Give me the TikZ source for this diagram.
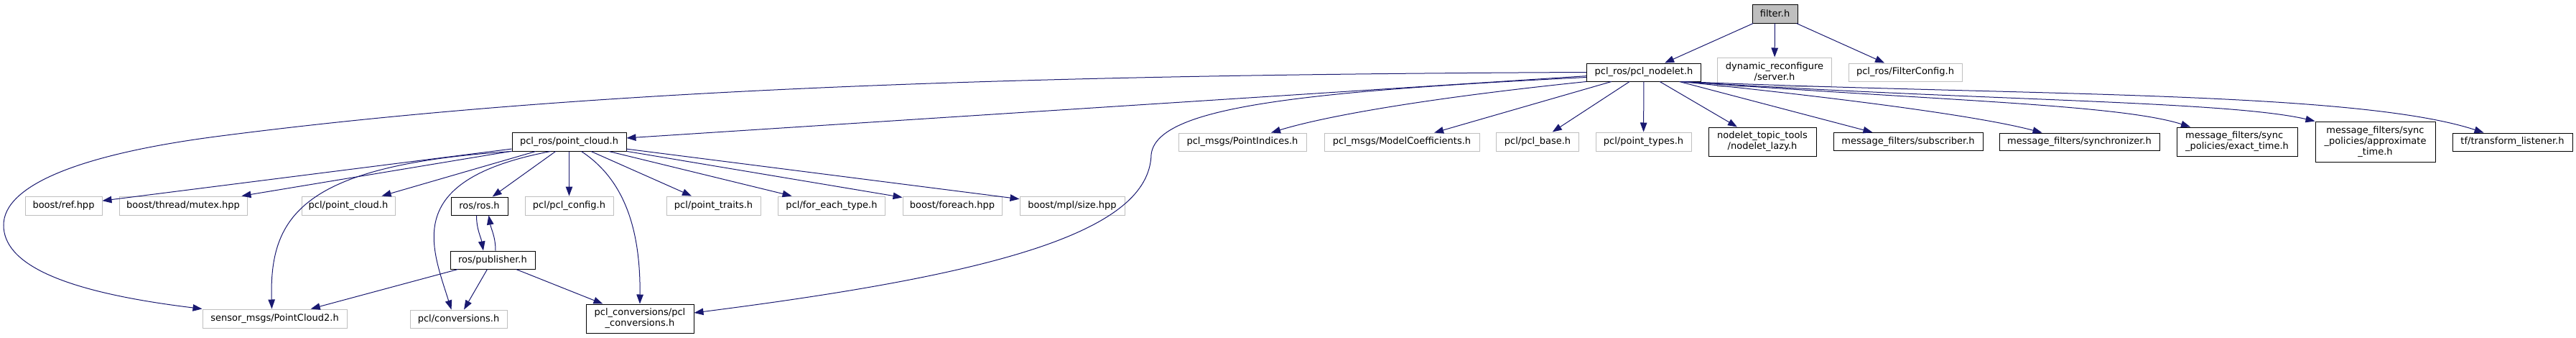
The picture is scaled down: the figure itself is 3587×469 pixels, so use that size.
\documentclass[tikz,border=0pt]{standalone}
\usepackage{fontspec}
\setmainfont{DejaVu Sans}
\usepackage{tikz}
\usetikzlibrary{arrows.meta}
\definecolor{edgeblue}{RGB}{25,25,112}
\definecolor{extgrey}{RGB}{191,191,191}
\definecolor{rootgrey}{RGB}{191,191,191}

\begin{document}
\begin{tikzpicture}[
    x=1pt, y=-1pt,
    hdr/.style={rectangle, draw=black, line width=1pt, inner sep=0pt, align=center, font=\fontsize{13}{15}\selectfont},
    ext/.style={hdr, draw=extgrey},
    root/.style={hdr, fill=rootgrey},
    sz/.style 2 args={minimum width=#1pt, minimum height=#2pt},
    dep/.style={-{Triangle[length=13pt,width=9.5pt]}, line width=1pt, edgeblue}
]
\useasboundingbox (0,0) rectangle (3587,469);

% ============ top ============
\node[root, sz={63}{26}] (filterh) at (2471.5,19) {filter.h};
\node[hdr, sz={159}{25}] (nodelet) at (2289,100.5) {pcl\_ros/pcl\_nodelet.h};
\node[ext, sz={159}{40}] (dynserver) at (2471,100) {dynamic\_reconfigure\\/server.h};
\node[ext, sz={158}{25}] (filtercfg) at (2653,100.5) {pcl\_ros/FilterConfig.h};

% ============ second row ============
\node[hdr, sz={159}{26}] (pointcloud) at (792.5,197) {pcl\_ros/point\_cloud.h};
\node[ext, sz={178}{25}] (pointindices) at (1730,197.5) {pcl\_msgs/PointIndices.h};
\node[ext, sz={216}{25}] (modelcoeff) at (1952,197.5) {pcl\_msgs/ModelCoefficients.h};
\node[ext, sz={115}{26}] (pclbase) at (2141,197) {pcl/pcl\_base.h};
\node[ext, sz={133}{26}] (pointtypes) at (2288.5,197) {pcl/point\_types.h};
\node[hdr, sz={150}{40}] (nodeletlazy) at (2454,197) {nodelet\_topic\_tools\\/nodelet\_lazy.h};
\node[hdr, sz={208}{25}] (subscriber) at (2657,197) {message\_filters/subscriber.h};
\node[hdr, sz={223}{24}] (synchronizer) at (2895.5,197) {message\_filters/synchronizer.h};
\node[hdr, sz={168}{40}, align=left] (exacttime) at (3115,197) {message\_filters/sync\\\_policies/exact\_time.h};
\node[hdr, sz={167}{56}] (approxtime) at (3307.5,197) {message\_filters/sync\\\_policies/approximate\\\_time.h};
\node[hdr, sz={167}{25}] (tflistener) at (3498.5,197.5) {tf/transform\_listener.h};

% ============ third row ============
\node[ext, sz={107}{26}] (boostref) at (88.5,286) {boost/ref.hpp};
\node[ext, sz={178}{26}] (mutex) at (255,286) {boost/thread/mutex.hpp};
\node[ext, sz={130}{26}] (pclpointcloud) at (485,286) {pcl/point\_cloud.h};
\node[hdr, sz={79}{25}] (rosh) at (667.5,286.5) {ros/ros.h};
\node[ext, sz={123}{26}] (pclconfig) at (792.5,286) {pcl/pcl\_config.h};
\node[ext, sz={131}{26}] (pointtraits) at (993.5,286) {pcl/point\_traits.h};
\node[ext, sz={149}{26}] (foreachtype) at (1158,286) {pcl/for\_each\_type.h};
\node[ext, sz={138}{26}] (boostforeach) at (1326,286) {boost/foreach.hpp};
\node[ext, sz={146}{26}] (mplsize) at (1493,286) {boost/mpl/size.hpp};

% ============ bottom ============
\node[hdr, sz={118}{25}] (publisher) at (686,361.5) {ros/publisher.h};
\node[ext, sz={201}{26}] (sensormsgs) at (382.5,443) {sensor\_msgs/PointCloud2.h};
\node[ext, sz={135}{25}] (pclconversions) at (638.5,443.5) {pcl/conversions.h};
\node[hdr, sz={150}{40}] (pclconv) at (891,443) {pcl\_conversions/pcl\\\_conversions.h};

% filter.h
\draw[dep] (filterh) -- (nodelet);
\draw[dep] (filterh) -- (dynserver);
\draw[dep] (filterh) -- (filtercfg);

% pcl_nodelet.h
\draw[dep] (nodelet) -- (pointcloud);
\draw[dep] (nodelet.west) .. controls (1400,104) and (800,125) .. (300,190)
    .. controls (110,215) and (5,258) .. (5,313)
    .. controls (5,365) and (80,405) .. (sensormsgs.north west);
\draw[dep] ([yshift=-7pt]nodelet.west) .. controls (1800,128) and (1610,150) .. (1603,215)
    .. controls (1600,320) and (1400,380) .. ([yshift=8pt]pclconv.east);
\draw[dep] (nodelet.south west) .. controls (2000,135) and (1850,160) .. ([xshift=40pt]pointindices.north);
\draw[dep] (nodelet) -- (modelcoeff);
\draw[dep] (nodelet) -- (pclbase);
\draw[dep] (nodelet) -- (pointtypes);
\draw[dep] (nodelet) -- (nodeletlazy);
\draw[dep] (nodelet) -- (subscriber);
\draw[dep] ([xshift=-28pt]nodelet.south east) .. controls (2550,135) and (2750,160) .. ([xshift=-52pt]synchronizer.north);
\draw[dep] ([xshift=-27pt]nodelet.south east) .. controls (2700,140) and (2950,145) .. ([xshift=-65pt]exacttime.north);
\draw[dep] ([xshift=-26pt]nodelet.south east) .. controls (2750,140) and (3100,140) .. (approxtime.north west);
\draw[dep] ([xshift=-24pt]nodelet.south east) .. controls (2800,133) and (3280,126) .. ([xshift=-40pt]tflistener.north);

% pcl_ros/point_cloud.h
\draw[dep] (pointcloud) -- (boostref);
\draw[dep] (pointcloud) -- (mutex);
\draw[dep] (pointcloud) -- (pclpointcloud);
\draw[dep] (pointcloud) -- (rosh);
\draw[dep] (pointcloud) -- (pclconfig);
\draw[dep] (pointcloud) -- (pointtraits);
\draw[dep] (pointcloud) -- (foreachtype);
\draw[dep] (pointcloud) -- (boostforeach);
\draw[dep] (pointcloud) -- (mplsize);
\draw[dep] (pointcloud.south west) .. controls (420,230) and (375,300) .. ([xshift=-4pt]sensormsgs.north);
\draw[dep] ([xshift=-26pt]pointcloud.south) .. controls (560,250) and (600,340) .. ([xshift=-10pt]pclconversions.north);
\draw[dep] ([xshift=17pt]pointcloud.south) .. controls (870,250) and (892,320) .. (pclconv.north);

% ros
\draw[dep] ([xshift=-4pt]rosh.south) to[out=-90,in=100] ([xshift=-13pt]publisher.north);
\draw[dep] ([xshift=4pt]publisher.north) to[out=90,in=-80] ([xshift=13pt]rosh.south);
\draw[dep] (publisher) -- (sensormsgs);
\draw[dep] (publisher) -- (pclconversions);
\draw[dep] (publisher) -- (pclconv);

\end{tikzpicture}
\end{document}
